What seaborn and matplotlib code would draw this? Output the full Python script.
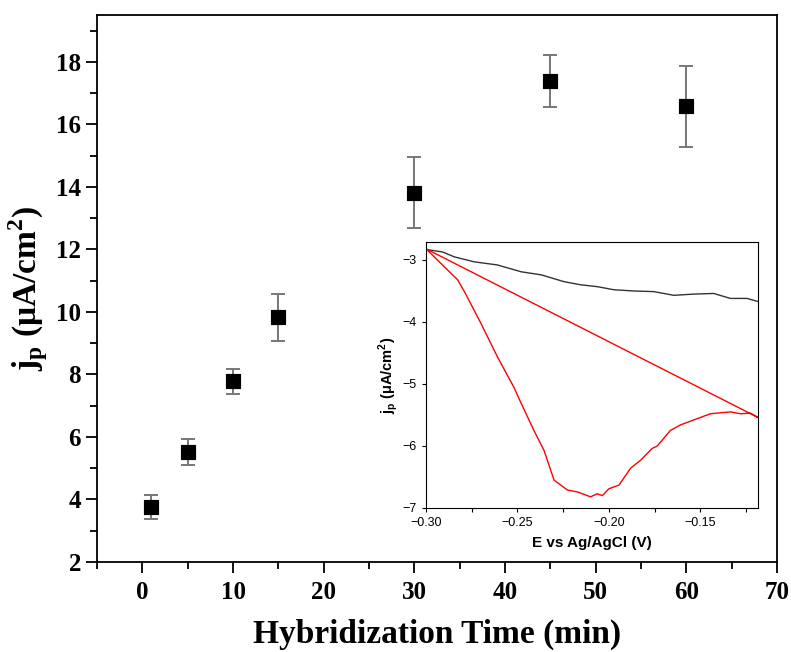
import numpy as np
import pandas as pd
import matplotlib
matplotlib.use("Agg")
import matplotlib.pyplot as plt
import seaborn as sns
from matplotlib.ticker import MultipleLocator

# main data: peak current density vs hybridization time
time_min = [1, 5, 10, 15, 30, 45, 60]
jp = [3.75, 5.51, 7.78, 9.83, 13.82, 17.39, 16.58]
jp_err = [0.38, 0.42, 0.40, 0.75, 1.13, 0.84, 1.30]

# inset: DPV curves
e_black = [-0.300, -0.291, -0.2845, -0.2736, -0.261, -0.248, -0.237, -0.2245, -0.2155,
           -0.2064, -0.1973, -0.1864, -0.1755, -0.1645, -0.1536, -0.1427, -0.1336,
           -0.1245, -0.1185]
j_black = [-2.83, -2.87, -2.95, -3.03, -3.08, -3.19, -3.24, -3.35, -3.40,
           -3.43, -3.48, -3.50, -3.51, -3.57, -3.55, -3.54, -3.62, -3.62, -3.67]

e_red = [-0.300, -0.2827, -0.279, -0.270, -0.261, -0.252, -0.248, -0.241, -0.2355,
         -0.230, -0.2227, -0.2173, -0.210, -0.2064, -0.2036, -0.200, -0.1945,
         -0.1882, -0.1827, -0.1764, -0.1736, -0.1664, -0.1609, -0.1518, -0.1445,
         -0.1336, -0.128, -0.1227, -0.1185, -0.300]
j_red = [-2.82, -3.32, -3.51, -4.02, -4.56, -5.05, -5.31, -5.75, -6.07,
         -6.55, -6.71, -6.74, -6.82, -6.77, -6.80, -6.69, -6.63,
         -6.36, -6.23, -6.04, -6.00, -5.75, -5.66, -5.56, -5.48,
         -5.45, -5.48, -5.47, -5.54, -2.82]

sns.set_style("ticks")
plt.rcParams["font.family"] = ["Liberation Serif", "DejaVu Serif"]
plt.rcParams["axes.linewidth"] = 1.3
plt.rcParams["text.color"] = "black"
plt.rcParams["axes.labelcolor"] = "black"
plt.rcParams["xtick.color"] = "black"
plt.rcParams["ytick.color"] = "black"

df = pd.DataFrame({"time": time_min, "jp": jp, "err": jp_err})

fig = plt.figure(figsize=(7.91, 6.52), dpi=100)
ax = fig.add_axes([97 / 791, 90 / 652, 680 / 791, 547 / 652])

ax.errorbar(df["time"], df["jp"], yerr=df["err"], fmt="none", ecolor="#777777",
            elinewidth=1.4, capsize=5, capthick=1.4, zorder=2)
sns.scatterplot(data=df, x="time", y="jp", marker="s", s=110, color="black",
                edgecolor="black", ax=ax, zorder=3)

ax.set_xlim(-5, 70)
ax.set_ylim(2, 19.5)
ax.xaxis.set_major_locator(MultipleLocator(10))
ax.xaxis.set_minor_locator(MultipleLocator(5))
ax.yaxis.set_major_locator(MultipleLocator(2))
ax.yaxis.set_minor_locator(MultipleLocator(1))
ax.tick_params(which="major", direction="out", length=8, width=1.3, labelsize=18)
ax.tick_params(which="minor", direction="out", length=5, width=1.3)
ax.tick_params(axis="x", pad=6)
for lab in ax.get_xticklabels() + ax.get_yticklabels():
    lab.set_fontweight("bold")
ax.set_xlabel("Hybridization Time (min)", fontsize=24, fontweight="bold", labelpad=10)
ax.set_ylabel(r"j$_\mathregular{p}$ (μA/cm$^\mathregular{2}$)", fontsize=24,
              fontweight="bold", labelpad=4)
for s in ax.spines.values():
    s.set_visible(True)
    s.set_color("black")

# inset
sans = ["Liberation Sans", "DejaVu Sans"]
ins = fig.add_axes([426 / 791, 144 / 652, 332 / 791, 266 / 652])
sns.lineplot(x=e_black, y=j_black, color="#333333", linewidth=1.0, ax=ins,
             sort=False, estimator=None)
sns.lineplot(x=e_red, y=j_red, color="red", linewidth=1.0, ax=ins,
             sort=False, estimator=None)
ins.set_xlim(-0.30, -0.1185)
ins.set_ylim(-7, -2.71)
ins.xaxis.set_major_locator(MultipleLocator(0.05))
ins.xaxis.set_minor_locator(MultipleLocator(0.025))
ins.yaxis.set_major_locator(MultipleLocator(1))
ins.tick_params(which="both", direction="out", length=3, width=0.8, labelsize=9)
ins.xaxis.set_major_formatter(plt.FuncFormatter(lambda v, p: f"{v:.2f}".replace("-", "\u2212")))
for lab in ins.get_xticklabels() + ins.get_yticklabels():
    lab.set_family(sans)
ins.set_xlabel("E vs Ag/AgCl (V)", fontsize=11, fontweight="bold", family=sans, labelpad=5)
ins.set_ylabel(r"j$_\mathregular{p}$ (μA/cm$^\mathregular{2}$)", fontsize=10.5,
               fontweight="bold", family=sans, labelpad=2)
for s in ins.spines.values():
    s.set_linewidth(0.8)
    s.set_color("black")

fig.savefig("out.png", dpi=100)
